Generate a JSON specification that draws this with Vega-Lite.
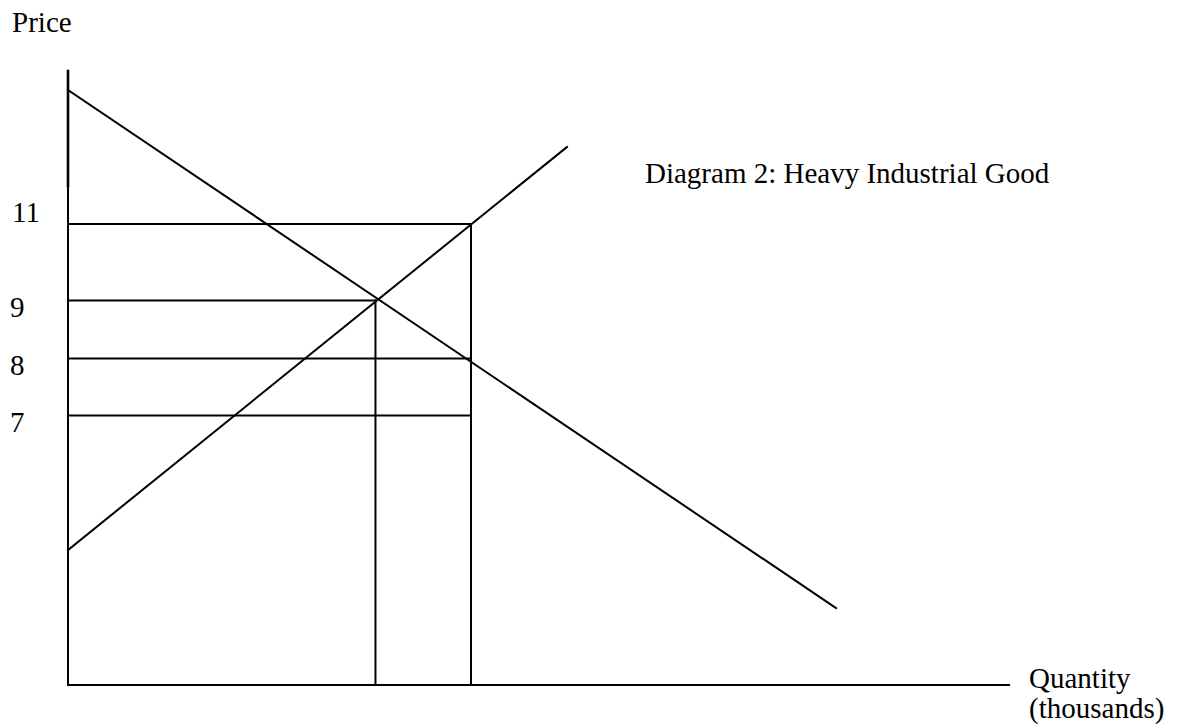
{
  "$schema": "https://vega.github.io/schema/vega-lite/v6.json",
  "width": 942,
  "height": 614,
  "autosize": "none",
  "padding": {"left": 68, "top": 71, "right": 172, "bottom": 43},
  "background": "white",
  "view": {"stroke": null},
  "datasets": {
    "segments": [
      {"name": "price axis", "kind": "normal", "q": 0, "p": 15.35, "q2": 0, "p2": 0},
      {"name": "price axis upper", "kind": "heavy", "q": 0, "p": 15.35, "q2": 0, "p2": 12.475},
      {"name": "quantity axis", "kind": "normal", "q": 0, "p": 0, "q2": 99.9, "p2": 0},
      {"name": "demand", "kind": "normal", "q": 0, "p": 14.875, "q2": 81.53, "p2": 1.925},
      {"name": "supply", "kind": "normal", "q": 0, "p": 3.375, "q2": 52.97, "p2": 13.45},
      {"name": "price 11", "kind": "normal", "q": 0, "p": 11.525, "q2": 42.78, "p2": 11.525},
      {"name": "price 9", "kind": "normal", "q": 0, "p": 9.6125, "q2": 32.64, "p2": 9.6125},
      {"name": "price 8", "kind": "normal", "q": 0, "p": 8.1625, "q2": 42.78, "p2": 8.1625},
      {"name": "price 7", "kind": "normal", "q": 0, "p": 6.7375, "q2": 42.78, "p2": 6.7375},
      {"name": "quantity at 9", "kind": "normal", "q": 32.64, "p": 0, "q2": 32.64, "p2": 9.6125},
      {"name": "quantity at 11", "kind": "normal", "q": 42.78, "p": 0, "q2": 42.78, "p2": 11.525}
    ],
    "labels": [
      {"text": "Price", "q": -5.94, "p": 16.325},
      {"text": "11", "q": -5.94, "p": 11.575},
      {"text": "9", "q": -6.16, "p": 9.2},
      {"text": "8", "q": -6.16, "p": 7.75},
      {"text": "7", "q": -6.16, "p": 6.325},
      {"text": "Diagram 2: Heavy Industrial Good", "q": 61.25, "p": 12.55},
      {"text": "Quantity", "q": 102.02, "p": -0.075},
      {"text": "(thousands)", "q": 102.02, "p": -0.825}
    ]
  },
  "layer": [
    {
      "data": {"name": "segments"},
      "mark": {"type": "rule", "color": "black", "strokeCap": "square"},
      "encoding": {
        "x": {"field": "q", "type": "quantitative", "axis": null, "scale": {"domain": [0, 100], "nice": false, "zero": false}},
        "y": {"field": "p", "type": "quantitative", "axis": null, "scale": {"domain": [0, 15.35], "nice": false, "zero": false}},
        "x2": {"field": "q2"},
        "y2": {"field": "p2"},
        "strokeWidth": {"field": "kind", "type": "nominal", "legend": null, "scale": {"domain": ["heavy", "normal"], "range": [2.6, 2]}}
      }
    },
    {
      "data": {"name": "labels"},
      "mark": {"type": "text", "font": "Liberation Serif", "fontSize": 29, "align": "left", "baseline": "alphabetic", "color": "black"},
      "encoding": {
        "x": {"field": "q", "type": "quantitative", "axis": null, "scale": {"domain": [0, 100], "nice": false, "zero": false}},
        "y": {"field": "p", "type": "quantitative", "axis": null, "scale": {"domain": [0, 15.35], "nice": false, "zero": false}},
        "text": {"field": "text"}
      }
    }
  ]
}
